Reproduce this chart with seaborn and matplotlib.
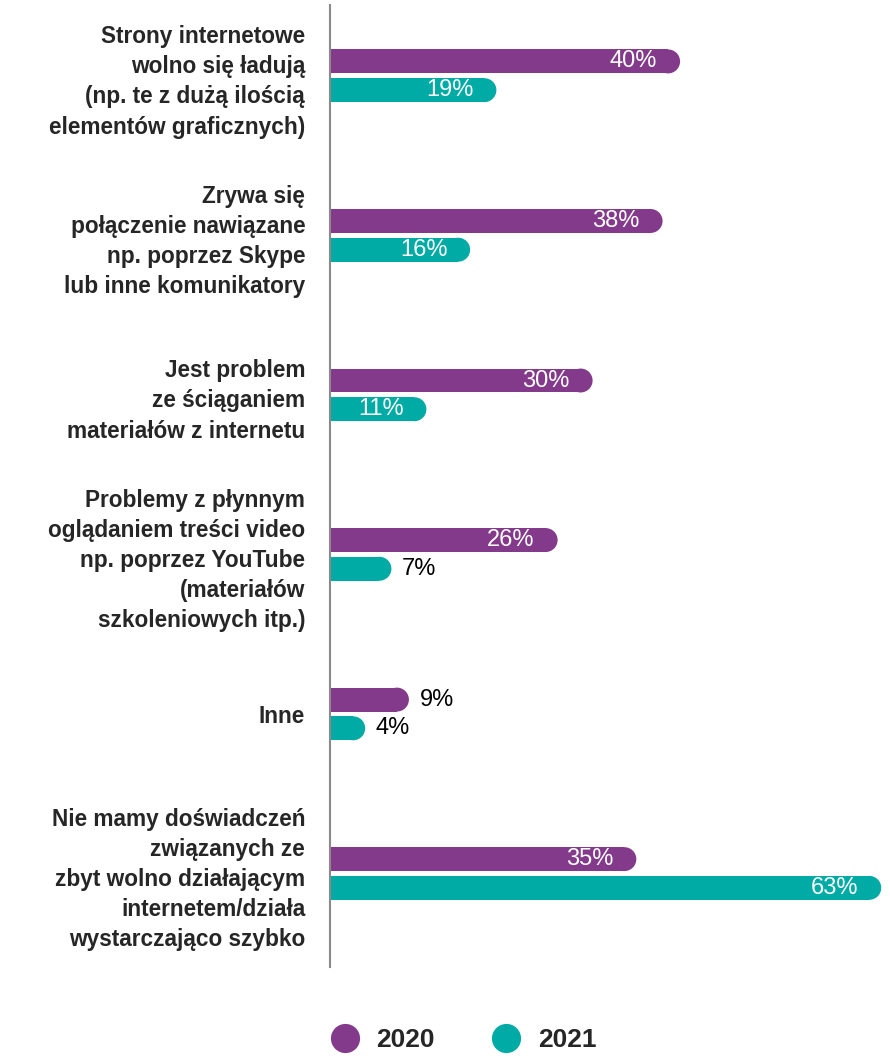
import pandas as pd
import matplotlib.pyplot as plt
import seaborn as sns
from matplotlib.patches import Ellipse
from matplotlib.lines import Line2D


# Data
categories = [
    'Strony internetowe\nwolno się ładują\n(np. te z dużą ilością\nelementów graficznych)',
    'Zrywa się\npołączenie nawiązane\nnp. poprzez Skype\nlub inne komunikatory',
    'Jest problem\nze ściąganiem\nmateriałów z internetu',
    'Problemy z płynnym\noglądaniem treści video\nnp. poprzez YouTube\n(materiałów\nszkoleniowych itp.)',
    'Inne',
    'Nie mamy doświadczeń\nzwiązanych ze\nzbyt wolno działającym\ninternetem/działa\nwystarczająco szybko',
]
years = ['2020', '2021']
values_2020 = [40, 38, 30, 26, 9, 35]
values_2021 = [19, 16, 11, 7, 4, 63]
colors = ['#833A8B', '#00ABA5']

df = pd.DataFrame({
    'category': categories * 2,
    'year': [years[0]] * len(categories) + [years[1]] * len(categories),
    'value': values_2020 + values_2021,
})

sns.set_style('white')
plt.rcParams['font.family'] = ['Liberation Sans', 'DejaVu Sans']

fig = plt.figure(figsize=(8.9, 10.56), dpi=100)
ax = fig.add_axes([0.371, 0.0843, 0.629, 0.9107])

sns.barplot(data=df, x='value', y='category', hue='year', orient='h',
            palette=colors, width=0.36, gap=0.167, legend=False, ax=ax,
            saturation=1)

ax.set_xlim(0, 64)
ax.set_ylim(5.586, -0.442)

# scale factors so the rounded bar end is a true semicircle on screen
px_x = ax.bbox.width / 64
px_y = ax.bbox.height / (5.586 + 0.442)

for container, col, vals in zip(ax.containers, colors, [values_2020, values_2021]):
    for bar, v in zip(container, vals):
        x0, y0 = bar.get_x(), bar.get_y()
        w, h = bar.get_width(), bar.get_height()
        rx = (h / 2) * px_y / px_x
        bar.set_width(max(w - rx, 0))
        bar.set_edgecolor('none')
        yc = y0 + h / 2
        cap = Ellipse((x0 + w - rx, yc), 2 * rx, h, facecolor=col,
                      edgecolor='none')
        ax.add_patch(cap)
        if v >= 10:
            ax.text(w - 2.6, yc, f'{v}%', ha='right', va='center',
                    color='white', fontsize=17)
        else:
            ax.text(w + 1.2, yc, f'{v}%', ha='left', va='center',
                    color='black', fontsize=17)

sns.despine(ax=ax, left=False, bottom=True)
ax.spines['left'].set_color('#8a8a8a')
ax.spines['left'].set_linewidth(1.5)
ax.set_xticks([])
ax.set_xlabel('')
ax.set_ylabel('')
ax.tick_params(axis='y', length=0, pad=18)
for lbl in ax.get_yticklabels():
    lbl.set_fontsize(16.3)
    lbl.set_fontweight('bold')
    lbl.set_linespacing(1.4)
    lbl.set_ha('right')

handles = [Line2D([0], [0], marker='o', linestyle='none', markersize=21,
                  markerfacecolor=c, markeredgecolor='none') for c in colors]
fig.legend(handles, years, loc='center', bbox_to_anchor=(0.514, 0.015),
           ncol=2, frameon=False, handletextpad=0.2, columnspacing=1.7,
           prop={'size': 19, 'weight': 'bold'})

fig.savefig('out.png', dpi=100)
